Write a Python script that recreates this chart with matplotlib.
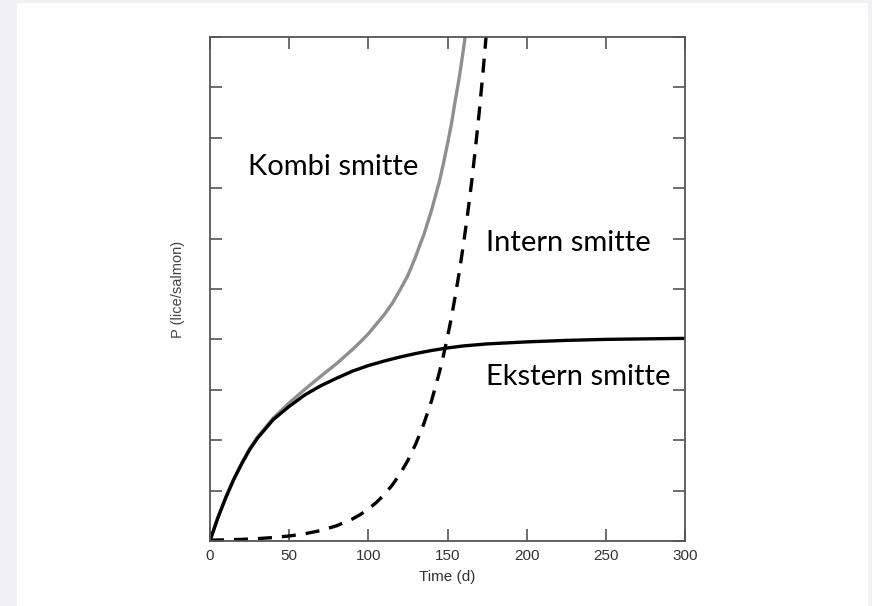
import matplotlib
matplotlib.use('Agg')
import matplotlib.pyplot as plt
from matplotlib.patches import Rectangle

# Ekstern smitte: lice from outside, levels off
t_ext = [0, 5, 10, 15, 20, 25, 30, 40, 50, 60, 70, 80, 90, 100, 110, 120,
         130, 140, 150, 160, 175, 200, 225, 250, 275, 300]
p_ext = [0, 0.46, 0.86, 1.22, 1.53, 1.81, 2.04, 2.41, 2.67, 2.90, 3.08, 3.23,
         3.37, 3.48, 3.57, 3.65, 3.72, 3.78, 3.83, 3.87, 3.91, 3.95, 3.98,
         4.0, 4.01, 4.02]

# Intern smitte: lice reproducing on the farm
t_int = [0, 10, 20, 30, 40, 50, 60, 70, 80, 90, 95, 100, 105, 110, 115, 120,
         125, 130, 135, 140, 145, 147.5, 150, 152.5, 155, 157.5, 160, 162.5,
         165, 167.5, 170, 172.5, 175]
p_int = [0.016, 0.022, 0.032, 0.047, 0.068, 0.099, 0.144, 0.208, 0.302,
         0.437, 0.526, 0.634, 0.762, 0.918, 1.105, 1.33, 1.60, 1.93, 2.32,
         2.79, 3.36, 3.69, 4.05, 4.44, 4.88, 5.35, 5.87, 6.44, 7.06, 7.75,
         8.50, 9.33, 10.24]

# Kombi smitte: both sources together
t_comb = [0, 5, 10, 15, 20, 25, 30, 40, 50, 60, 70, 80, 90, 95, 100, 105,
          110, 115, 120, 125, 130, 132.5, 135, 137.5, 140, 142.5, 145, 147.5,
          150, 152.5, 155, 157.5, 160, 162.5, 165]
p_comb = [0.01, 0.47, 0.87, 1.23, 1.54, 1.83, 2.06, 2.44, 2.74, 3.01, 3.27,
          3.52, 3.80, 3.95, 4.11, 4.30, 4.49, 4.71, 4.98, 5.27, 5.65, 5.87,
          6.07, 6.32, 6.57, 6.86, 7.15, 7.50, 7.88, 8.28, 8.76, 9.21, 9.74,
          10.32, 11.0]

x_ticks = [0, 50, 100, 150, 200, 250, 300]

fig = plt.figure(figsize=(8.72, 6.06), dpi=100)
fig.patch.set_facecolor('#f0f0f2')
fig.add_artist(Rectangle((17 / 872, 0), 851 / 872, 603 / 606,
                         transform=fig.transFigure, facecolor='white',
                         edgecolor='none', zorder=-5))

ax = fig.add_axes([0.2408, 0.1073, 0.5448, 0.8317])
ax.set_facecolor('none')
ax.plot(t_comb, p_comb, color='#8f8f8f', lw=2.4, solid_capstyle='round')
ax.plot(t_ext, p_ext, color='black', lw=2.4)
ax.plot(t_int, p_int, color='black', lw=2.4, dashes=(4.2, 3.0))

ax.set_xlim(0, 300)
ax.set_ylim(0, 10)
ax.set_xticks(x_ticks)
ax.set_yticks(range(11))
ax.set_yticklabels([])
ax.tick_params(direction='in', length=8.5, width=1.2, color='#555555',
               top=True, right=True, labelsize=11, labelcolor='#333333', pad=6)
for lab in ax.get_xticklabels():
    lab.set_family('Liberation Sans')
for s in ax.spines.values():
    s.set_color('#555555')
    s.set_linewidth(1.3)

ax.set_xlabel('Time (d)', family='Liberation Sans', fontsize=11,
              color='#333333', labelpad=5)
ax.set_ylabel('P (lice/salmon)', family='Liberation Sans', fontsize=10.5,
              color='#444444', labelpad=12)

# curve names
txt = dict(family='Lato', fontsize=21, color='black', va='center', ha='left')
ax.text(24, 7.42, 'Kombi smitte', **txt)
ax.text(174, 5.92, 'Intern smitte', **txt)
ax.text(174, 3.25, 'Ekstern smitte', **txt)

fig.savefig('out.png', dpi=100, facecolor=fig.get_facecolor())
